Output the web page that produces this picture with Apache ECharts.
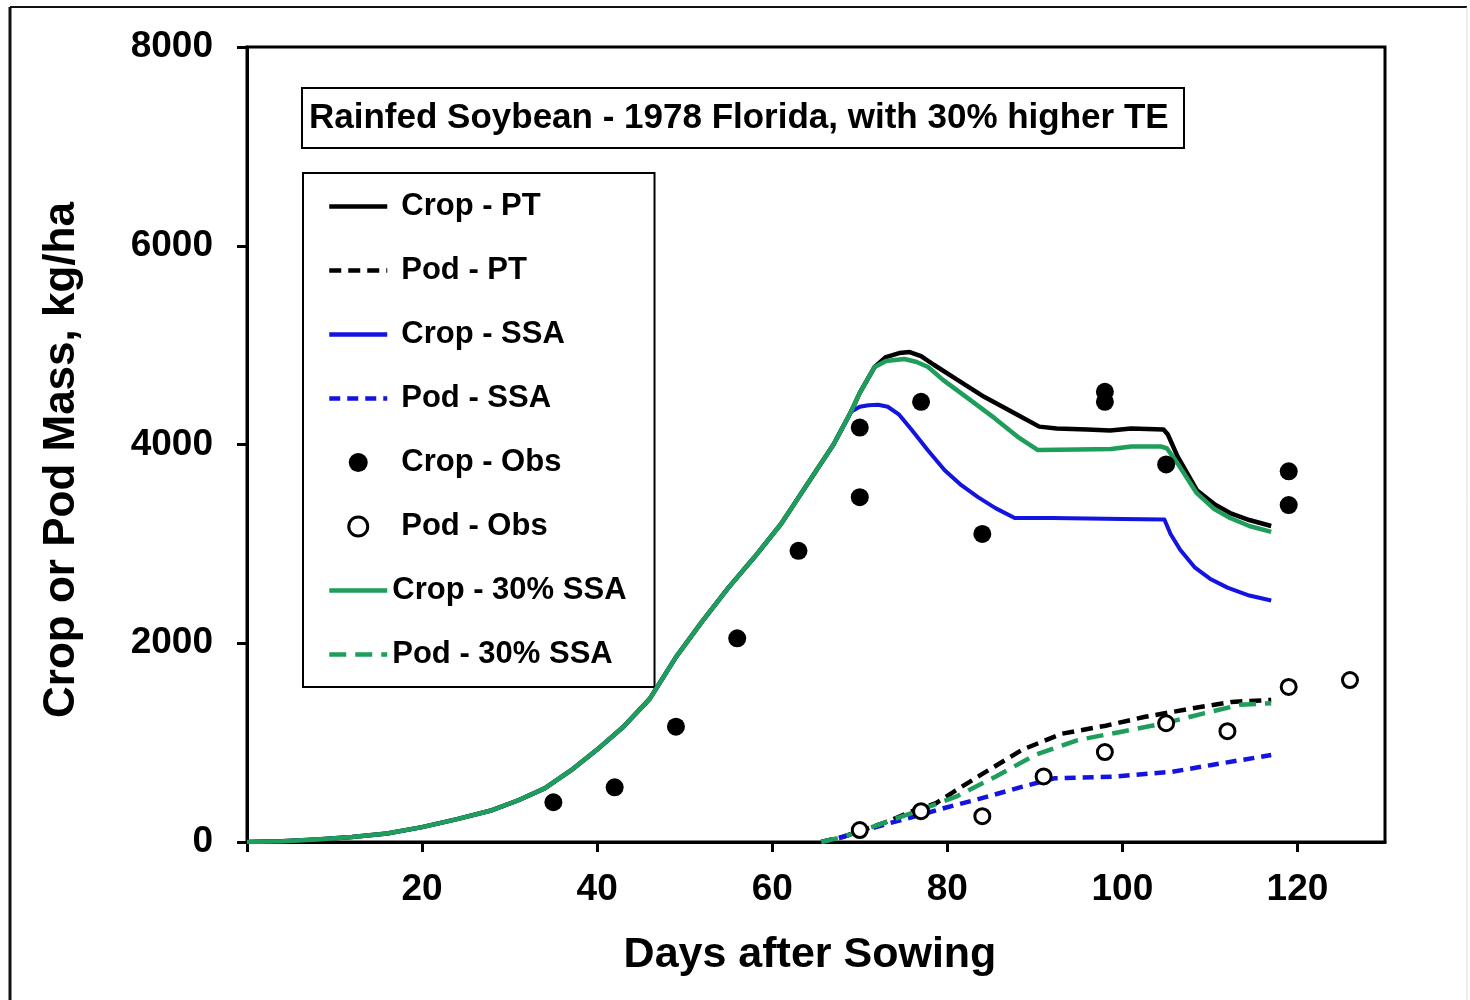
<!DOCTYPE html>
<html>
<head>
<meta charset="utf-8">
<title>Rainfed Soybean - 1978 Florida</title>
<script src="https://cdn.jsdelivr.net/npm/echarts@6/dist/echarts.min.js"></script>
<style>
  html, body { margin: 0; padding: 0; background: #ffffff; }
  #chart { width: 1470px; height: 1000px; }
</style>
</head>
<body>
<div id="chart"></div>
<script>
// Axis ticks and labels
const xTickValues = [0, 20, 40, 60, 80, 100, 120];
const xLabelValues = [20, 40, 60, 80, 100, 120];

// Simulated crop mass, kg/ha  [day after sowing, mass]
const cropPT = [
  [0, 0], [4, 8], [8, 25], [12, 50], [16, 85], [20, 150], [24, 230], [28, 320],
  [31, 420], [34, 540], [37, 720], [40, 930], [43, 1160], [46, 1440], [49, 1860],
  [52, 2220], [55, 2560], [58, 2870], [61, 3200], [64, 3600], [67, 4000], [69, 4330],
  [70, 4520], [71.7, 4780], [73, 4880], [74.5, 4920], [75.7, 4930], [77, 4890],
  [78.5, 4800], [80.8, 4670], [84.2, 4480], [88, 4300], [90.5, 4180], [92.5, 4160],
  [96, 4150], [98.6, 4140], [101, 4160], [104.7, 4150], [105.2, 4100], [106.3, 3880],
  [108.5, 3540], [110.5, 3400], [112.3, 3310], [114.5, 3240], [117, 3180]
];
const cropSSA = [
  [0, 0], [4, 8], [8, 25], [12, 50], [16, 85], [20, 150], [24, 230], [28, 320],
  [31, 420], [34, 540], [37, 720], [40, 930], [43, 1160], [46, 1440], [49, 1860],
  [52, 2220], [55, 2560], [58, 2870], [61, 3200], [64, 3600], [67, 4000], [69, 4330],
  [70, 4380], [71, 4395], [72.1, 4400], [73.2, 4380], [74.5, 4300], [75.9, 4150],
  [77.8, 3940], [79.7, 3740], [81.6, 3590], [83.5, 3470], [85.5, 3360], [87.7, 3260],
  [92, 3260], [96, 3255], [100, 3250], [104.8, 3245], [105.5, 3100], [106.6, 2940],
  [108.3, 2760], [110, 2650], [112, 2560], [114.5, 2480], [117, 2430]
];
const crop30SSA = [
  [0, 0], [4, 8], [8, 25], [12, 50], [16, 85], [20, 150], [24, 230], [28, 320],
  [31, 420], [34, 540], [37, 720], [40, 930], [43, 1160], [46, 1440], [49, 1860],
  [52, 2220], [55, 2560], [58, 2870], [61, 3200], [64, 3600], [67, 4000], [69, 4330],
  [70, 4520], [71.7, 4780], [73, 4840], [75.1, 4860], [76.5, 4830], [77.8, 4780],
  [79.5, 4650], [81.6, 4515], [85.4, 4265], [88, 4080], [90.3, 3945], [94.9, 3950],
  [98.7, 3955], [101, 3980], [104.4, 3980], [105.1, 3960], [106.3, 3810], [108.5, 3510],
  [110.5, 3350], [112.3, 3260], [114.5, 3180], [117, 3120]
];

// Simulated pod mass, kg/ha
const podPT = [
  [65.6, 0], [68, 50], [70, 110], [73, 200], [76, 310], [78.7, 390], [81, 520],
  [84.1, 690], [88.6, 930], [93.1, 1090], [98.1, 1170], [102.6, 1260], [108, 1345],
  [112.5, 1410], [117, 1430]
];
const podSSA = [
  [65.6, 0], [68, 50], [70.1, 104], [73, 180], [76.9, 272], [80, 350], [83.2, 423],
  [88.6, 557], [92.2, 641], [99, 657], [105.7, 707], [110.2, 775], [117, 875]
];
const pod30SSA = [
  [65.6, 0], [68, 50], [70, 105], [73, 200], [76.9, 322], [81, 456], [85.5, 657],
  [90, 875], [94.9, 1026], [99.9, 1110], [104.8, 1194], [109.3, 1295], [113.4, 1380],
  [117, 1396]
];

// Field observations
const cropObs = [
  [35, 400], [42, 550], [49, 1160], [56, 2050], [63, 2930], [70, 4170], [70, 3470],
  [77, 4430], [84, 3100], [98, 4530], [98, 4430], [105, 3800], [119, 3730], [119, 3390]
];
const podObs = [
  [70, 120], [77, 310], [84, 260], [91, 660], [98, 905], [105, 1195], [112, 1115],
  [119, 1560], [126, 1630]
];

const FONT = '"Liberation Sans", Arial, Helvetica, sans-serif';
const BLACK = '#000000';
const BLUE = '#1414e0';
const GREEN = '#1e9e5a';

const chart = echarts.init(document.getElementById('chart'), null, { renderer: 'canvas' });

function lineSeries(name, data, color, width, dash, z) {
  return {
    name: name,
    type: 'line',
    data: data,
    symbol: 'none',
    showSymbol: false,
    smooth: false,
    z: z,
    lineStyle: { color: color, width: width, type: dash || 'solid', cap: 'butt', join: 'round' },
    itemStyle: { color: color },
    emphasis: { disabled: true },
    animation: false
  };
}

// legend entry for a line series: line sample only, no marker dot
function lineEntry(name, extra) {
  return Object.assign({ name: name, itemStyle: { opacity: 0, borderWidth: 0 } }, extra || {});
}

const option = {
  backgroundColor: '#ffffff',
  animation: false,
  textStyle: { fontFamily: FONT },
  title: {
    text: 'Rainfed Soybean - 1978 Florida, with 30% higher TE',
    left: 302,
    top: 88,
    borderColor: BLACK,
    borderWidth: 2,
    padding: [13, 16, 12, 7],
    textStyle: { fontFamily: FONT, fontSize: 35, fontWeight: 'bold', color: BLACK }
  },
  legend: {
    orient: 'vertical',
    left: 303,
    top: 173,
    padding: [18, 28, 17, 24],
    borderColor: BLACK,
    borderWidth: 2,
    itemWidth: 58,
    itemHeight: 19,
    itemGap: 33,
    selectedMode: false,
    lineStyle: { width: 4.5 },
    textStyle: { fontFamily: FONT, fontSize: 31, fontWeight: 'bold', color: BLACK, padding: [0, 0, 0, 9] },
    data: [
      lineEntry('Crop - PT'),
      lineEntry('Pod - PT'),
      lineEntry('Crop - SSA'),
      lineEntry('Pod - SSA'),
      { name: 'Crop - Obs' },
      { name: 'Pod - Obs', itemStyle: { color: '#ffffff', borderColor: BLACK, borderWidth: 3 } },
      lineEntry('Crop - 30% SSA', { textStyle: { padding: [0, 0, 0, 0] } }),
      lineEntry('Pod - 30% SSA', { textStyle: { padding: [0, 0, 0, 0] } })
    ]
  },
  grid: {
    left: 247,
    top: 47,
    right: 85,
    bottom: 158,
    show: true,
    borderColor: BLACK,
    borderWidth: 3,
    backgroundColor: 'transparent'
  },
  xAxis: {
    type: 'value',
    min: 0,
    max: 130,
    interval: 20,
    position: 'bottom',
    name: 'Days after Sowing',
    nameLocation: 'middle',
    nameGap: 92,
    nameTextStyle: { fontFamily: FONT, fontSize: 43, fontWeight: 'bold', color: BLACK, padding: [0, 12, 0, 0] },
    axisLine: { onZero: false, lineStyle: { color: BLACK, width: 3 } },
    axisTick: { show: true, inside: false, length: 10, lineStyle: { color: BLACK, width: 3 }, customValues: xTickValues },
    axisLabel: { customValues: xLabelValues, fontFamily: FONT, fontSize: 37, fontWeight: 'bold', color: BLACK, margin: 29 },
    splitLine: { show: false }
  },
  yAxis: {
    type: 'value',
    min: 0,
    max: 8000,
    interval: 2000,
    name: 'Crop or Pod Mass, kg/ha',
    nameLocation: 'middle',
    nameGap: 163,
    nameTextStyle: { fontFamily: FONT, fontSize: 44, fontWeight: 'bold', color: BLACK, padding: [0, 31, 0, 0] },
    axisLine: { show: true, lineStyle: { color: BLACK, width: 3 } },
    axisTick: { show: true, inside: false, length: 10, lineStyle: { color: BLACK, width: 3 } },
    axisLabel: {
      fontFamily: FONT, fontSize: 37, fontWeight: 'bold', color: BLACK, margin: 34,
      formatter: function (v) { return String(v); }
    },
    splitLine: { show: false }
  },
  graphic: [
    { type: 'line', silent: true, shape: { x1: 10, y1: 7, x2: 1467, y2: 7 }, style: { stroke: '#111', lineWidth: 2 } },
    { type: 'line', silent: true, shape: { x1: 10, y1: 7, x2: 10, y2: 1000 }, style: { stroke: '#111', lineWidth: 3 } },
    { type: 'line', silent: true, shape: { x1: 1467, y1: 7, x2: 1467, y2: 1000 }, style: { stroke: '#dddddd', lineWidth: 1 } }
  ],
  series: [
    lineSeries('Crop - PT', cropPT, BLACK, 4.5, 'solid', 2),
    lineSeries('Crop - SSA', cropSSA, BLUE, 4, 'solid', 3),
    lineSeries('Crop - 30% SSA', crop30SSA, GREEN, 4.5, 'solid', 4),
    lineSeries('Pod - PT', podPT, BLACK, 4.5, [12, 7], 5),
    lineSeries('Pod - SSA', podSSA, BLUE, 4.5, [11, 7], 6),
    lineSeries('Pod - 30% SSA', pod30SSA, GREEN, 4.5, [17, 9], 7),
    {
      name: 'Crop - Obs',
      type: 'scatter',
      data: cropObs,
      symbol: 'circle',
      symbolSize: 18,
      z: 10,
      itemStyle: { color: BLACK, opacity: 1 },
      emphasis: { disabled: true }
    },
    {
      name: 'Pod - Obs',
      type: 'scatter',
      data: podObs,
      symbol: 'circle',
      symbolSize: 15,
      z: 10,
      itemStyle: { color: '#ffffff', borderColor: BLACK, borderWidth: 3, opacity: 1 },
      emphasis: { disabled: true }
    }
  ]
};

chart.setOption(option);
</script>
</body>
</html>
